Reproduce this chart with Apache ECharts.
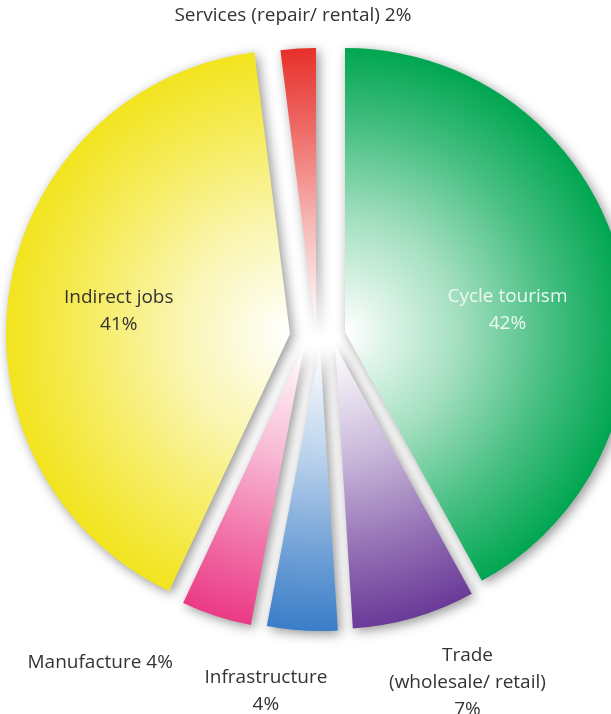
<!DOCTYPE html>
<html><head><meta charset="utf-8">
<script src="https://cdn.jsdelivr.net/npm/echarts@6/dist/echarts.min.js"></script>
<style>html,body{margin:0;padding:0;background:#fff}#chart{width:611px;height:714px}</style>
</head><body><div id="chart"></div>
<script>
// ---- data ----
const categories = ['Cycle tourism', 'Trade\n(wholesale/ retail)', 'Infrastructure', 'Manufacture', 'Indirect jobs', 'Services (repair/ rental)'];
const shares = [42, 7, 4, 4, 41, 2];

// ---- styles ----
const sliceColors = ['#00a651', '#6a3a98', '#3a7dc8', '#eb3a86', '#f2e41e', '#e7302a'];
const explode = [[29, -8], [19, 5], [4, 7], [-12, 6], [-26, -6], [0, -8]];
const labelOffsets = [[22, 14], [92, 198], [-45, 199], [-159, 179], [-28, 0], [-14, -172]];
const labelSep = ['\n', '\n', '\n', ' ', '\n', ' '];
const labelColors = ['#eef8f1', '#333', '#333', '#333', '#333', '#333'];
const baseCenter = [316, 340];
const radius = 284;

function mix(hex, t) {
  const n = parseInt(hex.slice(1), 16);
  const r = (n >> 16) & 255, g = (n >> 8) & 255, b = n & 255;
  const f = v => Math.round(255 + (v - 255) * t);
  return 'rgb(' + f(r) + ',' + f(g) + ',' + f(b) + ')';
}

const chart = echarts.init(document.getElementById('chart'), null, {renderer: 'canvas'});
const series = categories.map((cat, k) => {
  const cx = baseCenter[0] + explode[k][0];
  const cy = baseCenter[1] + explode[k][1];
  const c = sliceColors[k];
  const grad = new echarts.graphic.RadialGradient(cx, cy, radius, [
    {offset: 0, color: '#ffffff'},
    {offset: 0.06, color: mix(c, 0.05)},
    {offset: 0.4, color: mix(c, 0.36)},
    {offset: 0.72, color: mix(c, 0.72)},
    {offset: 1, color: c}
  ], true);
  return {
    type: 'pie',
    silent: true,
    center: [cx, cy],
    radius: [0, radius],
    startAngle: 90,
    clockwise: true,
    avoidLabelOverlap: false,
    animation: false,
    emphasis: {disabled: true},
    labelLine: {show: false},
    data: categories.map((name, i) => i === k ? {
      name: name,
      value: shares[i],
      itemStyle: {
        color: grad,
        shadowBlur: 12,
        shadowColor: 'rgba(0,0,0,0.42)',
        shadowOffsetX: 3,
        shadowOffsetY: 3
      },
      label: {
        show: true,
        position: 'inside',
        offset: labelOffsets[k],
        color: labelColors[k],
        fontFamily: 'Open Sans',
        fontSize: 19,
        lineHeight: 27,
        align: 'center',
        formatter: p => p.name + labelSep[k] + p.value + '%'
      }
    } : {
      name: name,
      value: shares[i],
      itemStyle: {color: 'rgba(0,0,0,0)', shadowColor: 'rgba(0,0,0,0)', borderWidth: 0},
      label: {show: false}
    })
  };
});

chart.setOption({
  backgroundColor: '#ffffff',
  animation: false,
  series: series
});
</script>
</body></html>
